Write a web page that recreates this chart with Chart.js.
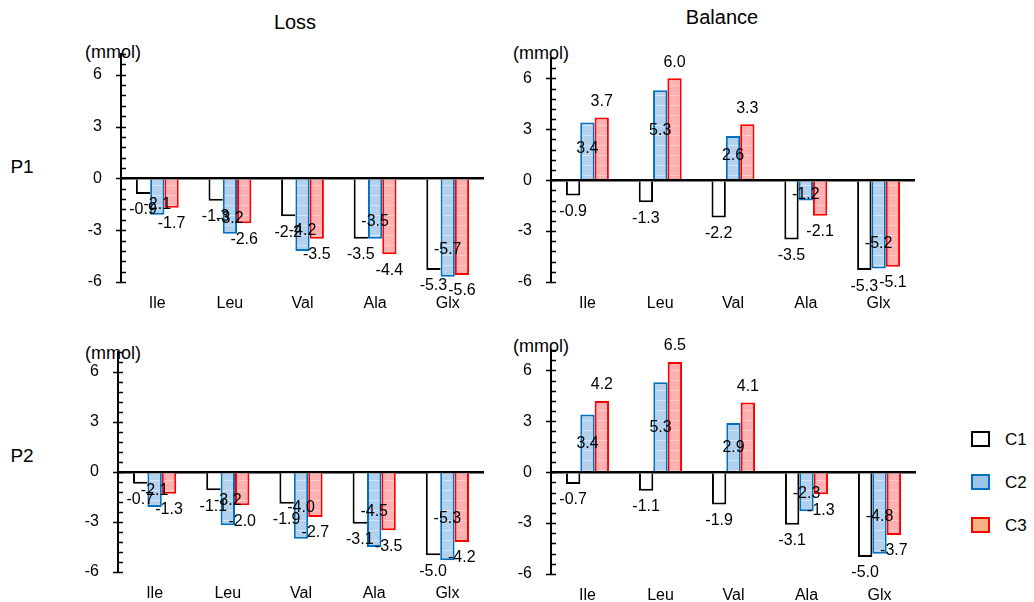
<!DOCTYPE html>
<html>
<head>
<meta charset="utf-8">
<script src="https://cdn.jsdelivr.net/npm/chart.js@4.4.1/dist/chart.umd.min.js"></script>
<style>
body { margin: 0; background: #fff; font-family: "Liberation Sans", Arial, sans-serif; }
#wrap { position: relative; width: 1034px; height: 602px; overflow: hidden; }
canvas { position: absolute; }
.t { position: absolute; color: #000; white-space: nowrap; line-height: 1; transform: translate(-50%, -50%); }
.l { position: absolute; color: #000; white-space: nowrap; line-height: 1; transform: translateY(-50%); }
.box { position: absolute; width: 15px; height: 12px; border: 2px solid #000; }
</style>
</head>
<body>
<div id="wrap">
  <div class="t" style="left:295px;top:22px;font-size:20px">Loss</div>
  <div class="t" style="left:722px;top:17px;font-size:20px">Balance</div>
  <div class="t" style="left:22px;top:166px;font-size:19px">P1</div>
  <div class="t" style="left:22px;top:455px;font-size:19px">P2</div>

  <div class="l" style="left:85px;top:52px;font-size:18px">(mmol)</div>
  <div class="l" style="left:513px;top:53px;font-size:18px">(mmol)</div>
  <div class="l" style="left:85px;top:353px;font-size:18px">(mmol)</div>
  <div class="l" style="left:513px;top:346px;font-size:18px">(mmol)</div>

  <div class="box" style="left:971px;top:431px;background:#fff;border-color:#000"></div>
  <div class="l" style="left:1005px;top:439px;font-size:17px">C1</div>
  <div class="box" style="left:971px;top:474px;background:#9DC3E6;border-color:#0070C0"></div>
  <div class="l" style="left:1005px;top:482px;font-size:17px">C2</div>
  <div class="box" style="left:971px;top:517px;background:#F4B183;border-color:#FF0000"></div>
  <div class="l" style="left:1005px;top:525px;font-size:17px">C3</div>

  <canvas id="lossP1"></canvas>
  <canvas id="balanceP1"></canvas>
  <canvas id="lossP2"></canvas>
  <canvas id="balanceP2"></canvas>
</div>
<script>
const aminoAcids = ['Ile', 'Leu', 'Val', 'Ala', 'Glx'];
const seriesNames = ['C1', 'C2', 'C3'];
const yTickLabels = [-6, -3, 0, 3, 6];

const lossP1C1 = [-0.9, -1.3, -2.2, -3.5, -5.3];
const lossP1C2 = [-2.1, -3.2, -4.2, -3.5, -5.7];
const lossP1C3 = [-1.7, -2.6, -3.5, -4.4, -5.6];

const balanceP1C1 = [-0.9, -1.3, -2.2, -3.5, -5.3];
const balanceP1C2 = [3.4, 5.3, 2.6, -1.2, -5.2];
const balanceP1C3 = [3.7, 6.0, 3.3, -2.1, -5.1];

const lossP2C1 = [-0.7, -1.1, -1.9, -3.1, -5.0];
const lossP2C2 = [-2.1, -3.2, -4.0, -4.5, -5.3];
const lossP2C3 = [-1.3, -2.0, -2.7, -3.5, -4.2];

const balanceP2C1 = [-0.7, -1.1, -1.9, -3.1, -5.0];
const balanceP2C2 = [3.4, 5.3, 2.9, -2.3, -4.8];
const balanceP2C3 = [4.2, 6.5, 4.1, -1.3, -3.7];

const FONT = '"Liberation Sans", Arial, sans-serif';

// striped fill like the original bars
function stripes(ctx, base, line) {
  const c = document.createElement('canvas');
  c.width = 8; c.height = 10;
  const g = c.getContext('2d');
  g.fillStyle = base; g.fillRect(0, 0, 8, 10);
  g.fillStyle = line; g.fillRect(0, 5, 8, 1);
  return ctx.createPattern(c, 'repeat');
}

const valueLabels = {
  id: 'valueLabels',
  afterDraw(chart, args, opts) {
    const ctx = chart.ctx;
    const zero = chart.scales.y.getPixelForValue(0);
    ctx.save();
    ctx.font = '16px ' + FONT;
    ctx.fillStyle = '#000';
    ctx.textAlign = 'center';
    ctx.textBaseline = 'middle';
    chart.data.datasets.forEach((ds, i) => {
      chart.getDatasetMeta(i).data.forEach((bar, j) => {
        const v = ds.data[j];
        let y;
        if (i === 1) {
          y = zero + (bar.y - zero) * (v > 0 ? opts.midPos : opts.midNeg);
        } else {
          y = bar.y + (v < 0 ? 16 : -16);
        }
        ctx.fillText(v.toFixed(1), bar.x, y);
      });
    });
    ctx.restore();
  }
};

// major ticks cross the axis, minor ticks only on the inside
const axisTicks = {
  id: 'axisTicks',
  afterDraw(chart) {
    const s = chart.scales.y;
    const ctx = chart.ctx;
    const x = chart.chartArea.left;
    ctx.save();
    ctx.strokeStyle = '#000';
    ctx.lineWidth = 1.5;
    ctx.beginPath();
    s.ticks.forEach(t => {
      const y = Math.round(s.getPixelForValue(t.value)) + 0.5;
      const major = yTickLabels.includes(t.value);
      ctx.moveTo(major ? x - 5 : x, y);
      ctx.lineTo(x + 5, y);
    });
    ctx.stroke();
    ctx.restore();
  }
};

function makePanel(id, box, area, c1, c2, c3, isLoss, midPos, midNeg) {
  const canvas = document.getElementById(id);
  canvas.width = box.r - box.l;
  canvas.height = box.b - box.t;
  canvas.style.left = box.l + 'px';
  canvas.style.top = box.t + 'px';
  const ctx = canvas.getContext('2d');

  return new Chart(ctx, {
    type: 'bar',
    data: {
      labels: aminoAcids,
      datasets: [
        {
          label: seriesNames[0],
          data: c1,
          backgroundColor: '#fff',
          borderColor: '#000',
          borderWidth: isLoss ? { top: 0, right: 0, bottom: 2, left: 2 } : 2,
        },
        {
          label: seriesNames[1],
          data: c2,
          backgroundColor: stripes(ctx, '#B3D1EC', '#D4E6F6'),
          borderColor: '#0070C0',
          borderWidth: 2,
        },
        {
          label: seriesNames[2],
          data: c3,
          backgroundColor: stripes(ctx, '#FFB0B0', '#FFCDCD'),
          borderColor: '#FF0000',
          borderWidth: 2,
        },
      ],
    },
    options: {
      responsive: false,
      animation: false,
      datasets: { bar: { barPercentage: 1, categoryPercentage: 0.59 } },
      layout: { padding: { left: 0, top: area.t - box.t, right: box.r - area.r, bottom: 0 } },
      plugins: {
        legend: { display: false },
        tooltip: { enabled: false },
        valueLabels: { midPos: midPos, midNeg: midNeg },
      },
      scales: {
        x: {
          grid: { display: false },
          border: { display: false },
          ticks: { color: '#000', font: { size: 16, family: FONT }, padding: 4 },
          afterFit(s) {
            s.height = box.b - area.b;
            s.paddingLeft = 0; s.paddingRight = 0;
          },
        },
        y: {
          min: -6,
          max: 7.2,
          z: 1,
          border: { color: '#000', width: 2 },
          grid: {
            drawTicks: false,
            color: c => (c.tick && c.tick.value === 0 ? '#000' : 'rgba(0,0,0,0)'),
            lineWidth: c => (c.tick && c.tick.value === 0 ? 2.5 : 1),
          },
          ticks: {
            stepSize: 0.6,
            autoSkip: false,
            padding: 19,
            color: '#000',
            font: { size: 16, family: FONT },
            callback: v => (yTickLabels.includes(v) ? String(v) : ''),
          },
          afterFit(s) {
            s.width = area.l - box.l;
            s.paddingTop = 0; s.paddingBottom = 0;
          },
        },
      },
    },
    plugins: [valueLabels, axisTicks],
  });
}

makePanel('lossP1', { l: 60, t: 40, r: 495, b: 325 }, { l: 121, t: 54, r: 484, b: 282 },
  lossP1C1, lossP1C2, lossP1C3, true, 0.55, 0.72);
makePanel('balanceP1', { l: 490, t: 40, r: 935, b: 325 }, { l: 551, t: 58, r: 915, b: 282 },
  balanceP1C1, balanceP1C2, balanceP1C3, false, 0.55, 0.72);
makePanel('lossP2', { l: 60, t: 335, r: 495, b: 602 }, { l: 118, t: 352, r: 484, b: 572 },
  lossP2C1, lossP2C2, lossP2C3, true, 0.5, 0.53);
makePanel('balanceP2', { l: 490, t: 335, r: 935, b: 602 }, { l: 551, t: 350, r: 916, b: 574 },
  balanceP2C1, balanceP2C2, balanceP2C3, false, 0.5, 0.55);
</script>
</body>
</html>
